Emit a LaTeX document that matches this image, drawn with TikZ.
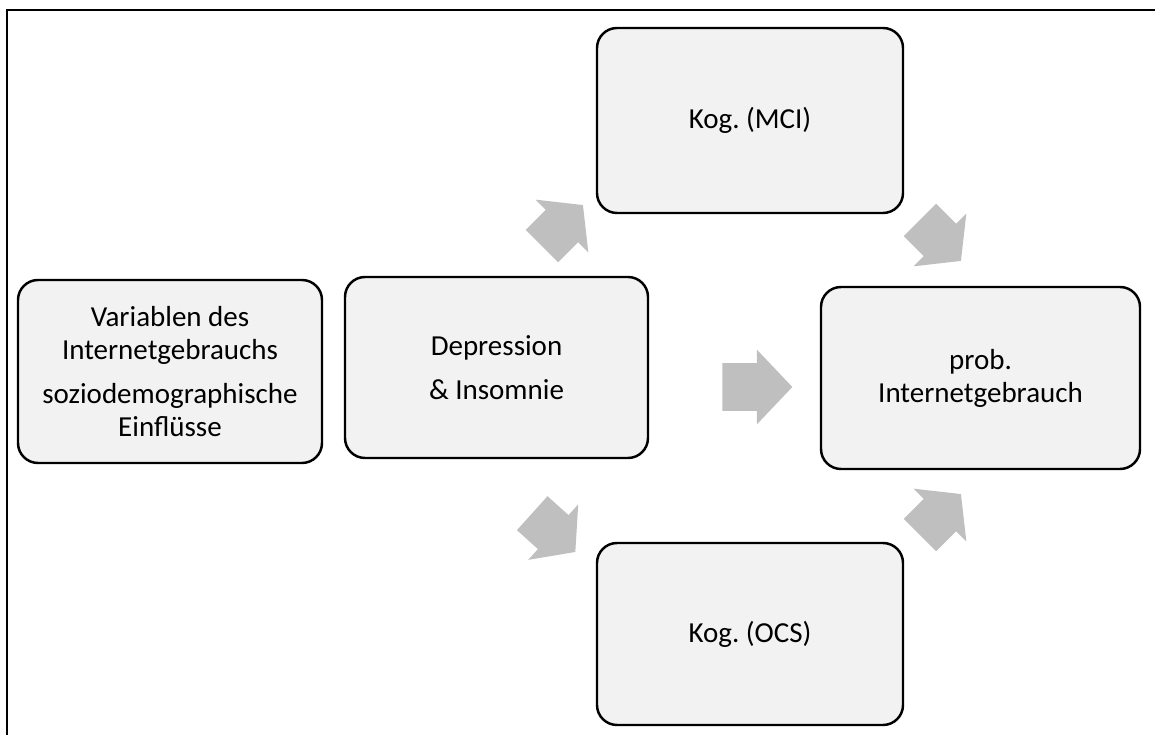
\documentclass[tikz,border=0pt]{standalone}
\usepackage{fontspec}
\setmainfont{Carlito}
\usepackage{xcolor}
\definecolor{boxfill}{RGB}{242,242,242}
\definecolor{arrgray}{RGB}{191,191,191}
\usetikzlibrary{arrows.meta,positioning,shapes.arrows}
\frenchspacing

\begin{document}
\begin{tikzpicture}[
    factbox/.style={rectangle, rounded corners=0.4cm, draw=black, line width=1.4pt,
                    fill=boxfill, minimum width=6.1cm, minimum height=3.66cm,
                    align=center, font=\fontsize{16.5}{18.8}\selectfont},
    blockarr/.style={single arrow, fill=arrgray, draw=none, inner xsep=0pt,
                     inner ysep=0.47cm, single arrow head extend=0.27cm,
                     minimum height=1.4cm, single arrow tip angle=93},
    diagarr/.style={blockarr, minimum height=1.16cm, inner ysep=0.45cm,
                    single arrow head extend=0.29cm, single arrow tip angle=103}
  ]
    \useasboundingbox (0,0) rectangle (23.1,14.7);
    % Frame
    \draw[line width=1.1pt] (0.14,0) -- (0.14,14.5) -- (23.1,14.5);

    % Boxes
    \node[factbox, minimum width=6.08cm] (vars) at (3.40,7.27)
      {Variablen des\\Internetgebrauchs\\[6.3pt]soziodemographische\\Einflüsse};
    \node[factbox, minimum width=6.06cm, minimum height=3.62cm] (depr) at (9.93,7.35)
      {Depression\\[6.3pt]\& Insomnie};
    \node[factbox, minimum width=6.12cm, minimum height=3.70cm] (mci) at (15.0,12.29) {Kog. (MCI)};
    \node[factbox, minimum width=6.12cm, minimum height=3.64cm] (ocs) at (15.0,2.02) {Kog. (OCS)};
    \node[factbox, minimum width=6.38cm, minimum height=3.64cm] (prob) at (19.61,7.14)
      {prob.\\Internetgebrauch};

    % Arrows
    \node[diagarr, rotate=45]  (a1) at (11.12,10.06) {};
    \node[diagarr, rotate=-42] (a2) at (10.94,4.17) {};
    \node[blockarr]            (a3) at (14.92,6.96) {};
    \node[diagarr, rotate=-45] (a4) at (18.68,10.02) {};
    \node[diagarr, rotate=45]  (a5) at (18.68,4.28) {};
  \end{tikzpicture}
\end{document}
